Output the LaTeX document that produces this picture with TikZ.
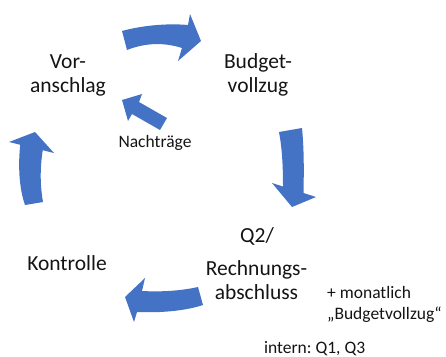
\documentclass[tikz,border=0pt]{standalone}
\usepackage{fontspec}
\setmainfont{Carlito}
\frenchspacing
\definecolor{arrowblue}{RGB}{68,114,196}
\definecolor{txt}{RGB}{20,20,20}
\begin{document}
\begin{tikzpicture}[x=1pt,y=-1pt,
  blockarrow/.style={fill=arrowblue, draw=none},
  big/.style={font=\fontsize{21.5}{24}\selectfont, align=center, inner sep=0pt, text=txt},
  small/.style={font=\fontsize{17.5}{21}\selectfont, inner sep=0pt, text=txt}]
\useasboundingbox (0,0) rectangle (446,356);

% texts
\node[big] (vor) at (68,75) {Vor-\\anschlag};
\node[big] (budget) at (258,75) {Budget-\\vollzug};
\node[small, anchor=base] (nachtraege) at (155,147) {Nachträge};
\node[big, anchor=base] (q2) at (257,242) {Q2/};
\node[big] (rechnung) at (256.5,280.5) {Rechnungs-\\abschluss};
\node[big, anchor=base] (kontrolle) at (67,270) {Kontrolle};
\node[small, align=left, anchor=west] (monatlich) at (327,304) {+ monatlich\\„Budgetvollzug“};
\node[small, anchor=base west] (intern) at (264,353) {intern: Q1, Q3};

% arrows
\fill[blockarrow] (122,31) .. controls (140,26) and (165,23) .. (188,25) -- (190,14) -- (201,41) -- (178,61) -- (182,48) .. controls (163,42) and (145,43) .. (127,50) -- cycle;
\fill[blockarrow] (122,100) -- (142,94) -- (139,102) -- (167,118) -- (160,130) -- (132,114) -- (128,121) -- cycle;
\fill[blockarrow] (35,132) -- (54,153) -- (42.75,150.25) .. controls (40,168) and (40,185) .. (43,202) -- (25,205) .. controls (19,188) and (18,165) .. (20.25,144.75) -- (9,142) -- cycle;
\fill[blockarrow] (302,128) .. controls (304,148) and (304,170) .. (303.5,193) -- (316,197) -- (292,207) -- (272,183) -- (283,186.5) .. controls (283,165) and (282,148) .. (279,132) -- cycle;
\fill[blockarrow] (125,297) -- (145,278) -- (142,291) .. controls (160,292) and (180,291) .. (198,287) -- (203,305) .. controls (185,311) and (160,313) .. (137,312) -- (134,322) -- cycle;
\end{tikzpicture}
\end{document}
